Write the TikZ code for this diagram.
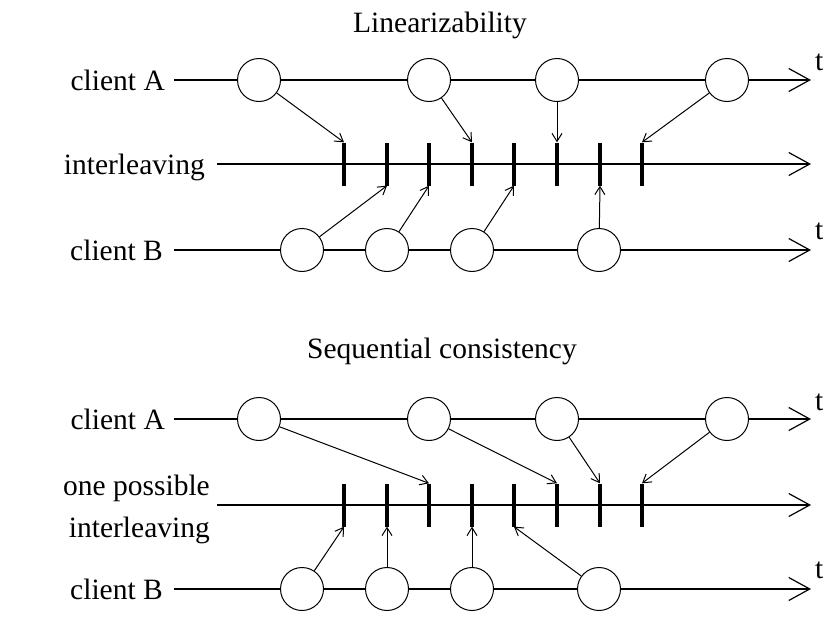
\documentclass[tikz,border=0pt]{standalone}
\usepackage{fontspec}
\setmainfont{Liberation Serif}
\usetikzlibrary{arrows.meta}
\tikzset{
  timeline/.style={-{Straight Barb[length=21pt,width=23pt]}, line width=1.2pt},
  evarrow/.style={-{Straight Barb[length=8pt,width=10pt]}, line width=1pt},
  event/.style={circle, draw, line width=1pt, fill=white, minimum size=43pt,
    inner sep=0pt},
  tickmark/.style={rectangle, fill=black, minimum width=4pt,
    minimum height=43pt, inner sep=0pt},
  lbl/.style={inner sep=0pt, font=\fontsize{29.5}{42}\selectfont},
  tlabel/.style={lbl, anchor=base west}
}

\begin{document}
\begin{tikzpicture}[x=1pt, y=-1pt]
  \useasboundingbox (0,0) rectangle (828,621);

  % Linearizability
  \node[lbl, anchor=base] (lintitle) at (440,32) {Linearizability};
  \node[lbl, anchor=base east] (linAlbl) at (165,90) {client A};
  \node[lbl, anchor=base east] (linIlbl) at (205,174) {interleaving};
  \node[lbl, anchor=base east] (linBlbl) at (163,260) {client B};

  \coordinate (linAstart) at (174,80);  \coordinate (linAend) at (811,80);
  \coordinate (linIstart) at (217,164); \coordinate (linIend) at (811,164);
  \coordinate (linBstart) at (174,250); \coordinate (linBend) at (811,250);
  \draw[timeline] (linAstart) -- (linAend);
  \draw[timeline] (linIstart) -- (linIend);
  \draw[timeline] (linBstart) -- (linBend);
  \node[tlabel] (linAt) at (815,70) {t};
  \node[tlabel] (linBt) at (815,239) {t};

  \foreach \i/\x in {1/344,2/387,3/429,4/472,5/514,6/557,7/600,8/642}
    \node[tickmark] (lk\i) at (\x,164) {};
  \foreach \i/\x in {1/259,2/429,3/557,4/727}
    \node[event] (la\i) at (\x,80) {};
  \foreach \i/\x in {1/302,2/387,3/472,4/599}
    \node[event] (lb\i) at (\x,250) {};

  \draw[evarrow] (la1) -- (lk1.north);
  \draw[evarrow] (la2) -- (lk4.north);
  \draw[evarrow] (la3) -- (lk6.north);
  \draw[evarrow] (la4) -- (lk8.north);
  \draw[evarrow] (lb1) -- (lk2.south);
  \draw[evarrow] (lb2) -- (lk3.south);
  \draw[evarrow] (lb3) -- (lk5.south);
  \draw[evarrow] (lb4) -- (lk7.south);

  % Sequential consistency
  \node[lbl, anchor=base] (seqtitle) at (442,358) {Sequential consistency};
  \node[lbl, anchor=base east] (seqAlbl) at (165,429) {client A};
  \node[lbl, anchor=base east, align=right] (seqIlbl) at (210,537)
    {one possible\\interleaving};
  \node[lbl, anchor=base east] (seqBlbl) at (163,599) {client B};

  \coordinate (seqAstart) at (174,419); \coordinate (seqAend) at (811,419);
  \coordinate (seqIstart) at (217,505); \coordinate (seqIend) at (811,505);
  \coordinate (seqBstart) at (174,589); \coordinate (seqBend) at (811,589);
  \draw[timeline] (seqAstart) -- (seqAend);
  \draw[timeline] (seqIstart) -- (seqIend);
  \draw[timeline] (seqBstart) -- (seqBend);
  \node[tlabel] (seqAt) at (815,410) {t};
  \node[tlabel] (seqBt) at (815,578) {t};

  \foreach \i/\x in {1/344,2/387,3/429,4/472,5/514,6/557,7/600,8/642}
    \node[tickmark] (sk\i) at (\x,505) {};
  \foreach \i/\x in {1/259,2/429,3/557,4/727}
    \node[event] (sa\i) at (\x,419) {};
  \foreach \i/\x in {1/302,2/387,3/472,4/599}
    \node[event] (sb\i) at (\x,589) {};

  \draw[evarrow] (sa1) -- (sk3.north);
  \draw[evarrow] (sa2) -- (sk6.north);
  \draw[evarrow] (sa3) -- (sk7.north);
  \draw[evarrow] (sa4) -- (sk8.north);
  \draw[evarrow] (sb1) -- (sk1.south);
  \draw[evarrow] (sb2) -- (sk2.south);
  \draw[evarrow] (sb3) -- (sk4.south);
  \draw[evarrow] (sb4) -- (sk5.south);
\end{tikzpicture}
\end{document}
